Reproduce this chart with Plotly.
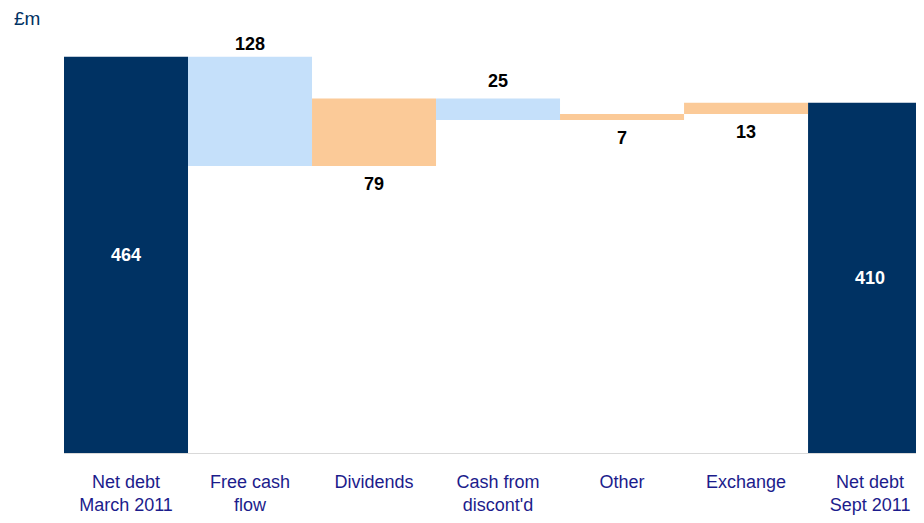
import plotly.graph_objects as go

categories = ["Net debt<br>March 2011", "Free cash<br>flow", "Dividends", "Cash from<br>discont'd",
              "Other", "Exchange", "Net debt<br>Sept 2011"]
opening = 464
closing = 410
# signed change in net debt (negative = reduction)
changes = [-128, 79, -25, 7, 13]

NAVY = "#003263"
LIGHT_BLUE = "#C5E0FA"
ORANGE = "#FBCA98"
FONT = "Liberation Sans, Arial"

# running totals for the floating bars
starts, ends = [], []
level = opening
for c in changes:
    starts.append(level)
    level += c
    ends.append(level)

fig = go.Figure()

# opening / closing totals
fig.add_trace(go.Bar(
    x=[categories[0], categories[-1]],
    y=[opening, closing],
    width=1,
    marker=dict(color=NAVY, line=dict(width=0)),
    text=[str(opening), str(closing)],
    textposition="inside",
    insidetextanchor="middle",
    textfont=dict(family=FONT, size=18, color="white", weight="bold"),
    hoverinfo="skip",
))

# floating change bars
fig.add_trace(go.Bar(
    x=categories[1:-1],
    y=[e - s for s, e in zip(starts, ends)],
    base=starts,
    width=1,
    marker=dict(color=[ORANGE if c > 0 else LIGHT_BLUE for c in changes], line=dict(width=0)),
    hoverinfo="skip",
))

# value labels sit on the starting side of each floating bar
for i, (c, s) in enumerate(zip(changes, starts)):
    shift = 18 if c < 0 else -18
    if i == 0:
        shift = 13
    fig.add_annotation(x=categories[i + 1], y=s, text=str(abs(c)), showarrow=False,
                       yshift=shift, font=dict(family=FONT, size=18, color="black", weight="bold"))

fig.add_annotation(text="£m", x=(4 - 56) / 860, y=(448 - 10) / 436,
                   xref="paper", yref="paper",
                   showarrow=False, xanchor="left", yanchor="middle",
                   font=dict(family=FONT, size=19, color=NAVY))

fig.update_layout(
    width=916, height=507,
    margin=dict(l=56, r=0, t=12, b=59),
    plot_bgcolor="white", paper_bgcolor="white",
    barmode="overlay",
    showlegend=False,
    xaxis=dict(
        categoryorder="array", categoryarray=categories,
        range=[-0.5, 6.435],
        showgrid=False, zeroline=False,
        showline=True, linecolor="#d9d9d9", linewidth=1,
        ticks="", ticklabelstandoff=12,
        tickfont=dict(family=FONT, size=18, color="#1c1c8c"),
    ),
    yaxis=dict(
        range=[0, 436 / (399 / 464)], visible=False, showgrid=False, zeroline=False,
    ),
)

fig.write_html("out.html")
